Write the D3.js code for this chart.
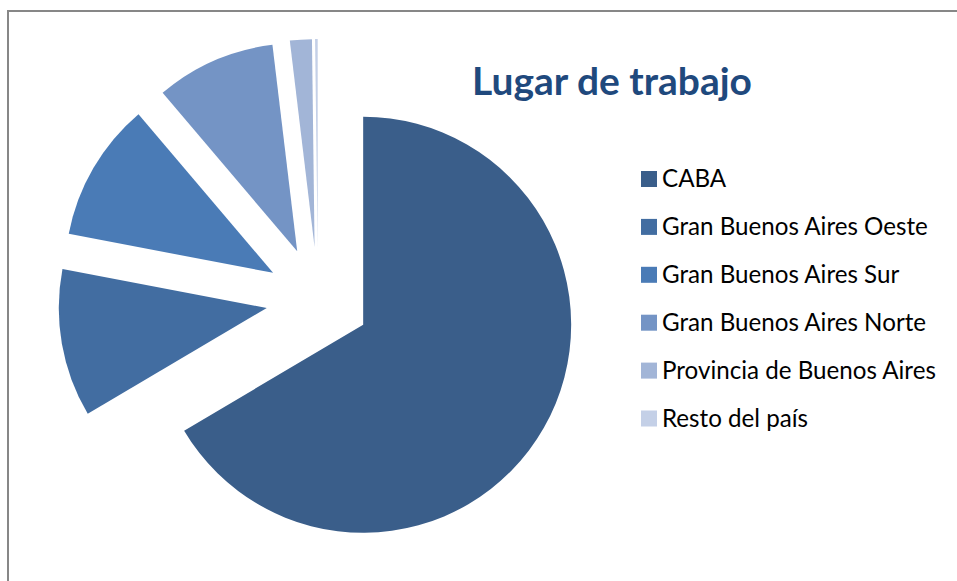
<!DOCTYPE html>
<html>
<head>
<meta charset="utf-8">
<script src="https://cdn.jsdelivr.net/npm/d3@7/dist/d3.min.js"></script>
<style>
  html, body { margin: 0; padding: 0; background: #ffffff; }
  svg { display: block; }
</style>
</head>
<body>
<svg id="chart" width="957" height="581"></svg>
<script>
// ---- Data ----
const title = "Lugar de trabajo";
const categories = ["CABA", "Gran Buenos Aires Oeste", "Gran Buenos Aires Sur", "Gran Buenos Aires Norte", "Provincia de Buenos Aires", "Resto del país"];
const values = [66.5, 11.5, 10.8, 9.3, 1.7, 0.2];
const colors = ["#3A5E8A", "#426DA1", "#4A7BB6", "#7494C5", "#A2B5D7", "#C4D0E7"];

// ---- Layout ----
const W = 957, H = 581;
const svg = d3.select("#chart");

// chart area border (only top & left visible in the frame)
svg.append("rect")
  .attr("x", 8).attr("y", 11)
  .attr("width", 980).attr("height", 620)
  .attr("fill", "#ffffff")
  .attr("stroke", "#878787")
  .attr("stroke-width", 2);

const cx = 318, cy = 299, R = 208, explode = 52;

const pie = d3.pie().sort(null).value(d => d.v).startAngle(0).endAngle(2 * Math.PI);
const arc = d3.arc().innerRadius(0).outerRadius(R);
const data = categories.map((c, i) => ({ c, v: values[i], col: colors[i] }));
const arcs = pie(data);

const g = svg.append("g").attr("transform", `translate(${cx},${cy})`);
g.selectAll("path.slice")
  .data(arcs)
  .join("path")
  .attr("class", "slice")
  .attr("fill", d => d.data.col)
  .attr("d", arc)
  .attr("transform", d => {
    const a = (d.startAngle + d.endAngle) / 2;
    return `translate(${explode * Math.sin(a)},${-explode * Math.cos(a)})`;
  });

// ---- Title ----
const t = svg.append("text")
  .attr("x", 612).attr("y", 95)
  .attr("text-anchor", "middle")
  .attr("font-family", "Lato, 'Liberation Sans', sans-serif")
  .attr("font-weight", "bold")
  .attr("font-size", 38)
  .attr("fill", "#1F497D")
  .text(title);
{
  const w = t.node().getComputedTextLength();
  t.attr("font-size", 38 * 280 / w);
}

// ---- Legend ----
const legend = svg.append("g");
const rowY0 = 187, rowStep = 47.9;
const items = legend.selectAll("g.item")
  .data(data)
  .join("g")
  .attr("class", "item")
  .attr("transform", (d, i) => `translate(641,${rowY0 + i * rowStep})`);
items.append("rect")
  .attr("x", 0).attr("y", -16)
  .attr("width", 16).attr("height", 16)
  .attr("fill", d => d.col);
const labels = items.append("text")
  .attr("x", 21).attr("y", 0)
  .attr("font-family", "Lato, 'Liberation Sans', sans-serif")
  .attr("font-size", 21)
  .attr("fill", "#000000")
  .text(d => d.c);
{
  // fit the font size so the longest-looking label matches the reference width
  const ref = labels.filter(d => d.c === "Gran Buenos Aires Oeste").node();
  const w = ref.getComputedTextLength();
  labels.attr("font-size", 21 * 266 / w);
}
</script>
</body>
</html>
